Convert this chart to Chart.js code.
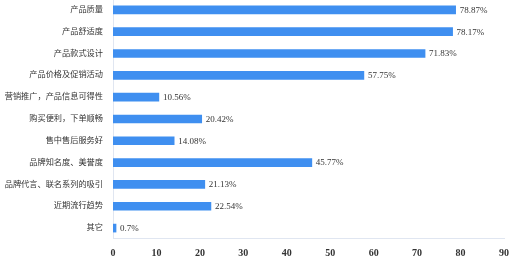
<!DOCTYPE html>
<html>
<head>
<meta charset="utf-8">
<script src="https://cdn.jsdelivr.net/npm/chart.js@4"></script>
<style>
  html, body { margin: 0; padding: 0; background: #fff; }
  #wrap { width: 511px; height: 258px; position: relative; overflow: hidden; }
  #lienzo { position: absolute; left: 0; top: -16.4px; width: 517px; height: 283px; }
</style>
</head>
<body>
<div id="wrap"><div id="lienzo"><canvas id="grafico"></canvas></div></div>
<script>
// categorías y porcentajes
const categorias = ['产品质量', '产品舒适度', '产品款式设计', '产品价格及促销活动', '营销推广，产品信息可得性',
  '购买便利，下单顺畅', '售中售后服务好', '品牌知名度、美誉度', '品牌代言、联名系列的吸引', '近期流行趋势', '其它'];
const valores = [78.87, 78.17, 71.83, 57.75, 10.56, 20.42, 14.08, 45.77, 21.13, 22.54, 0.7];
const etiquetas = ['78.87%', '78.17%', '71.83%', '57.75%', '10.56%', '20.42%', '14.08%', '45.77%', '21.13%', '22.54%', '0.7%'];

const fuenteSerif = '"Liberation Serif", "Times New Roman", "Noto Sans CJK SC", serif';

// dibuja el texto del valor al final de cada barra
const etiquetasBarras = {
  id: 'etiquetasBarras',
  afterDatasetsDraw(chart) {
    const ctx = chart.ctx;
    const meta = chart.getDatasetMeta(0);
    ctx.save();
    ctx.font = '9px ' + fuenteSerif;
    ctx.fillStyle = '#333';
    ctx.textBaseline = 'middle';
    ctx.textAlign = 'left';
    meta.data.forEach(function(barra, i) {
      ctx.fillText(etiquetas[i], barra.x + 4, barra.y + 0.5);
    });
    ctx.restore();
  }
};

const ctx = document.getElementById('grafico').getContext('2d');
new Chart(ctx, {
  type: 'bar',
  data: {
    labels: categorias,
    datasets: [{
      data: valores,
      backgroundColor: '#3f8ff0',
      borderWidth: 0,
      barThickness: 8
    }]
  },
  options: {
    indexAxis: 'y',
    responsive: true,
    maintainAspectRatio: false,
    animation: false,
    layout: { padding: { top: 0, right: 2, bottom: 0, left: 0 } },
    plugins: {
      legend: { display: false },
      tooltip: { enabled: false }
    },
    scales: {
      x: {
        min: 0,
        max: 90,
        grid: { display: false, drawTicks: false },
        border: { display: true, color: '#e0e6f1', width: 1 },
        ticks: {
          stepSize: 10,
          padding: 8,
          color: '#333',
          font: { family: fuenteSerif, size: 10, weight: 'bold' }
        }
      },
      y: {
        grid: { display: false, drawTicks: false },
        border: { display: true, color: '#e0e6f1', width: 1 },
        ticks: {
          padding: 10,
          color: '#333',
          font: { family: fuenteSerif, size: 8.2 }
        },
        afterFit: function(escala) { escala.width = 113; }
      }
    }
  },
  plugins: [etiquetasBarras]
});
</script>
</body>
</html>
